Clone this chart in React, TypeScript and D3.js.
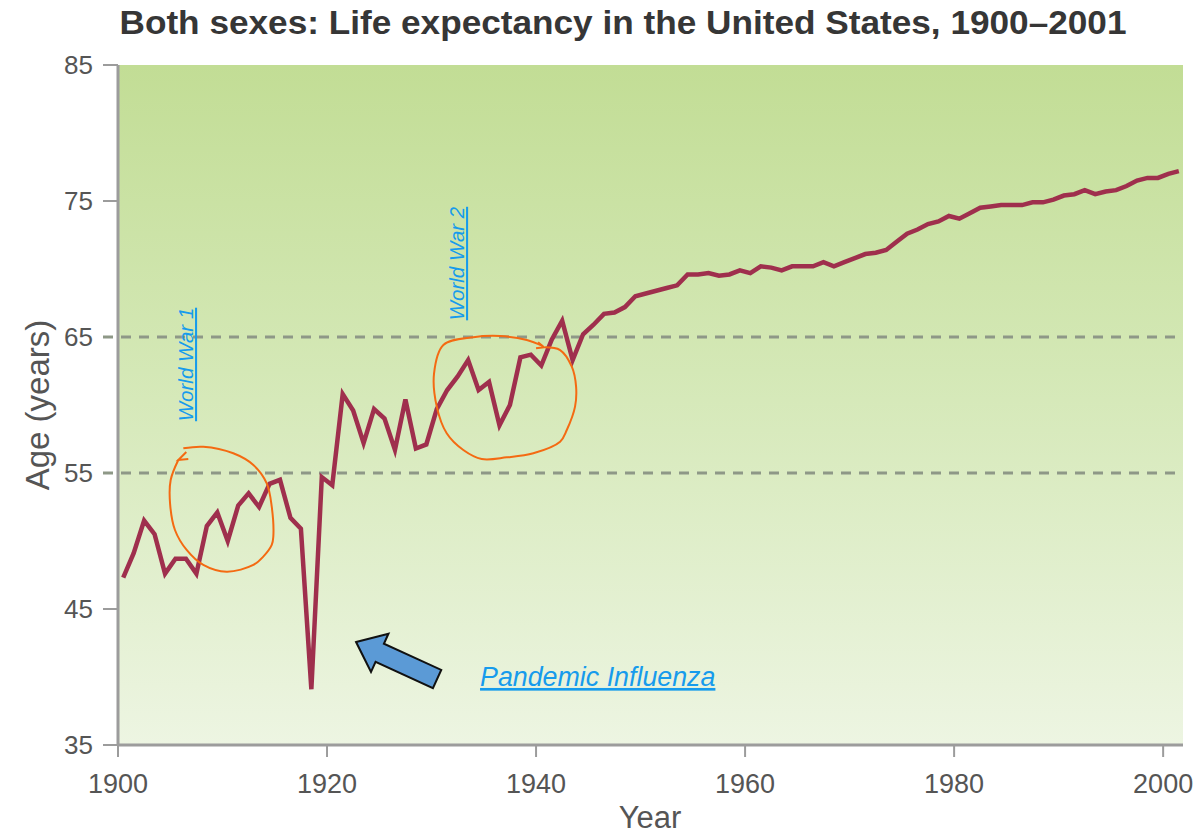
import React from "react";
import * as d3 from "d3";

// life expectancy at birth, both sexes, one value per year from 1900
const startYear = 1900;
const lifeExpectancy = [
  47.3, 49.1, 51.5, 50.5, 47.6, 48.7, 48.7, 47.6, 51.1, 52.1,
  50.0, 52.6, 53.5, 52.5, 54.2, 54.5, 51.7, 50.9, 39.1, 54.7,
  54.1, 60.8, 59.6, 57.2, 59.7, 59.0, 56.7, 60.4, 56.8, 57.1,
  59.7, 61.1, 62.1, 63.3, 61.1, 61.7, 58.5, 60.0, 63.5, 63.7,
  62.9, 64.8, 66.2, 63.3, 65.2, 65.9, 66.7, 66.8, 67.2, 68.0,
  68.2, 68.4, 68.6, 68.8, 69.6, 69.6, 69.7, 69.5, 69.6, 69.9,
  69.7, 70.2, 70.1, 69.9, 70.2, 70.2, 70.2, 70.5, 70.2, 70.5,
  70.8, 71.1, 71.2, 71.4, 72.0, 72.6, 72.9, 73.3, 73.5, 73.9,
  73.7, 74.1, 74.5, 74.6, 74.7, 74.7, 74.7, 74.9, 74.9, 75.1,
  75.4, 75.5, 75.8, 75.5, 75.7, 75.8, 76.1, 76.5, 76.7, 76.7,
  77.0, 77.2,
];

const yearTicks = [1900, 1920, 1940, 1960, 1980, 2000];
const ageTicks = [35, 45, 55, 65, 75, 85];
const dashedAges = [55, 65];

// hand drawn circles, as [year, age] points
const circleWW1 = [
  [1906.25, 56.82], [1908.16, 56.93], [1911.03, 56.45], [1912.95, 55.59],
  [1914.23, 54.24], [1914.71, 52.52], [1914.86, 50.32], [1914.71, 49.71],
  [1913.9, 48.85], [1912.95, 48.24], [1910.4, 47.74], [1908.16, 48.24],
  [1906.57, 49.34], [1905.45, 50.81], [1904.98, 52.77], [1905.04, 54.49],
  [1905.77, 55.96],
];
const circleWW2 = [
  [1940.86, 64.24], [1942.3, 64.04], [1943.42, 62.82], [1943.83, 61.35],
  [1943.73, 59.88], [1942.94, 58.16], [1942.3, 57.3], [1939.74, 56.45],
  [1937.2, 56.15], [1934.8, 56.03], [1933.04, 56.69], [1931.45, 57.92],
  [1930.5, 59.88], [1930.24, 62.33], [1931.13, 64.41], [1934.0, 64.98],
  [1936.56, 65.07], [1939.11, 64.78], [1940.6, 64.35],
];

// annotation anchors [year, age]
const ww1Label = [1907.18, 62.98];
const ww2Label = [1933.11, 70.4];
const fluLabel = [1934.64, 39.34];
const arrowTip = [1922.78, 42.57];
const arrowTail = [1930.53, 39.85];

const W = 1201;
const H = 836;
const left = 118;
const right = 1183;
const top = 65;
const bottom = 745;

const font = "'Liberation Sans', Arial, sans-serif";
const lineColor = "#9f2f4d";
const orange = "#f46a12";
const blue = "#169bec";

export default function App() {
  const x = d3.scaleLinear().domain([1900, 2001.9]).range([left, right]);
  const y = d3.scaleLinear().domain([35, 85]).range([bottom, top]);

  const data = lifeExpectancy.map((v, i) => ({ year: startYear + i, value: v }));

  const line = d3.line<{ year: number; value: number }>()
    .x(d => x(d.year + 0.5))
    .y(d => y(d.value));

  const scribble = d3.line<number[]>()
    .x(d => x(d[0]))
    .y(d => y(d[1]))
    .curve(d3.curveCatmullRom);

  // block arrow
  const tip = [x(arrowTip[0]), y(arrowTip[1])];
  const tail = [x(arrowTail[0]), y(arrowTail[1])];
  const len = Math.hypot(tip[0] - tail[0], tip[1] - tail[1]);
  const u = [(tip[0] - tail[0]) / len, (tip[1] - tail[1]) / len];
  const n = [-u[1], u[0]];
  const base = [tip[0] - u[0] * 26, tip[1] - u[1] * 26];
  const pt = (p: number[], k: number) => [p[0] + n[0] * k, p[1] + n[1] * k];
  const arrowPts = [tip, pt(base, 21), pt(base, 10), pt(tail, 10), pt(tail, -10), pt(base, -10), pt(base, -21)];

  const c1 = [x(circleWW1[circleWW1.length - 1][0]), y(circleWW1[circleWW1.length - 1][1])];
  const c2 = [x(circleWW2[0][0]), y(circleWW2[0][1])];

  return (
    <svg width={W} height={H} style={{ position: "absolute", left: 0, top: 0, background: "#fff" }}>
      <defs>
        <linearGradient id="bg" x1="0" y1="0" x2="0" y2="1">
          <stop offset="0%" stopColor="#c2dd95" />
          <stop offset="45%" stopColor="#d4e8b6" />
          <stop offset="100%" stopColor="#edf5e2" />
        </linearGradient>
      </defs>

      <text x={623} y={34} textAnchor="middle" fontFamily={font} fontWeight="bold" fontSize={33}
        fill="#363636" textLength={1007} lengthAdjust="spacingAndGlyphs">
        Both sexes: Life expectancy in the United States, 1900–2001
      </text>

      <rect x={left} y={top} width={right - left} height={bottom - top} fill="url(#bg)" />

      {dashedAges.map(a => (
        <line key={a} x1={103} x2={right} y1={y(a)} y2={y(a)} stroke="#8e9887" strokeWidth={3}
          strokeDasharray="10 8" />
      ))}

      {/* axes */}
      <line x1={left} x2={left} y1={top} y2={bottom} stroke="#9c9c9c" strokeWidth={3} />
      <line x1={left} x2={right} y1={bottom} y2={bottom} stroke="#9c9c9c" strokeWidth={3} />
      {ageTicks.filter(a => !dashedAges.includes(a)).map(a => (
        <line key={a} x1={103} x2={left} y1={y(a)} y2={y(a)} stroke="#9c9c9c" strokeWidth={2} />
      ))}
      {ageTicks.map(a => (
        <text key={a} x={93} y={y(a)} dy="0.36em" textAnchor="end" fontFamily={font} fontSize={26} fill="#555">
          {a}
        </text>
      ))}
      {yearTicks.map(t => (
        <g key={t}>
          <line x1={x(t)} x2={x(t)} y1={bottom} y2={bottom + 12} stroke="#9c9c9c" strokeWidth={2} />
          <text x={x(t)} y={793} textAnchor="middle" fontFamily={font} fontSize={27} fill="#555">{t}</text>
        </g>
      ))}
      <text x={650} y={828} textAnchor="middle" fontFamily={font} fontSize={31} fill="#555">Year</text>
      <text transform={`translate(49,405) rotate(-90)`} textAnchor="middle" fontFamily={font} fontSize={33}
        fill="#555">Age (years)</text>

      {/* series */}
      <path d={line(data) ?? ""} fill="none" stroke={lineColor} strokeWidth={4.5} strokeLinejoin="miter" />

      {/* annotations */}
      <path d={scribble(circleWW1) ?? ""} fill="none" stroke={orange} strokeWidth={2} />
      <polyline points={`${c1[0] + 8},${c1[1] - 8} ${c1[0]},${c1[1]} ${c1[0] + 10},${c1[1] - 1}`}
        fill="none" stroke={orange} strokeWidth={2} />
      <path d={scribble(circleWW2) ?? ""} fill="none" stroke={orange} strokeWidth={2} />
      <polyline points={`${c2[0] - 7},${c2[1] - 5} ${c2[0] - 1},${c2[1]} ${c2[0] - 9},${c2[1] + 1}`}
        fill="none" stroke={orange} strokeWidth={2} />

      <text transform={`translate(${x(ww1Label[0])},${y(ww1Label[1])}) rotate(-90)`} textAnchor="middle"
        fontFamily={font} fontSize={20.5} fontStyle="italic" fill={blue} textDecoration="underline">World War 1</text>
      <text transform={`translate(${x(ww2Label[0])},${y(ww2Label[1])}) rotate(-90)`} textAnchor="middle"
        fontFamily={font} fontSize={20.5} fontStyle="italic" fill={blue} textDecoration="underline">World War 2</text>

      <polygon points={arrowPts.map(p => p.join(",")).join(" ")} fill="#5b9ad6" stroke="#111" strokeWidth={2}
        strokeLinejoin="miter" />
      <text x={x(fluLabel[0])} y={y(fluLabel[1])} fontFamily={font} fontSize={26.8} fontStyle="italic" fill={blue}
        textDecoration="underline">Pandemic Influenza</text>
    </svg>
  );
}
